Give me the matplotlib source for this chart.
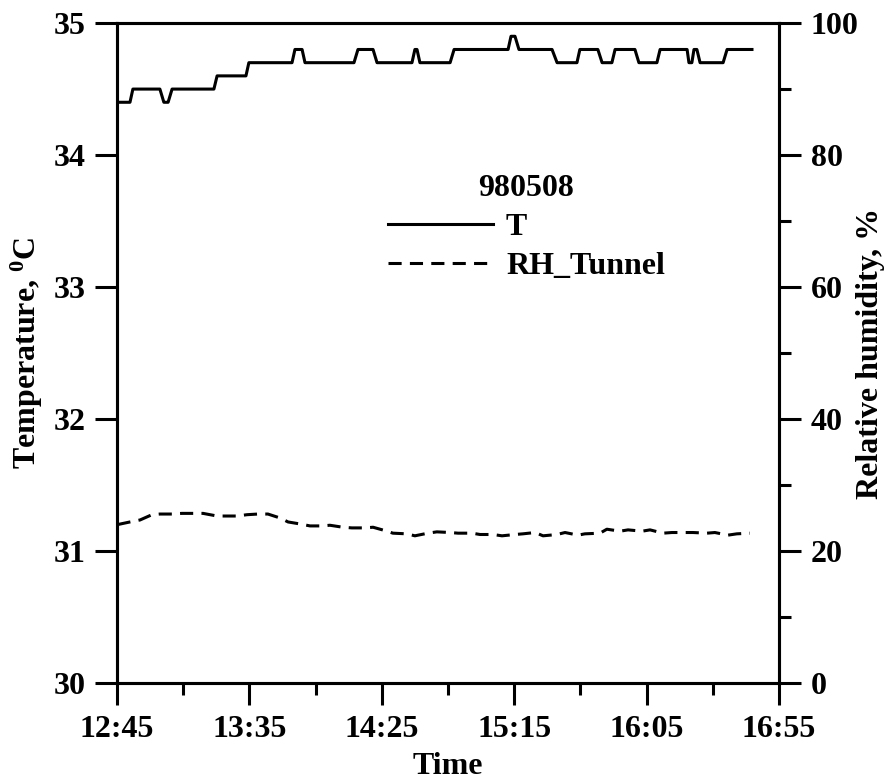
import matplotlib
matplotlib.use('Agg')
import matplotlib.pyplot as plt
from matplotlib.ticker import MultipleLocator

# minutes after 12:45
t_minutes = [0, 4.9, 6.0, 16.2, 17.7, 19.3, 20.8, 36.6, 37.8, 48.7, 49.8, 66.1, 67.2,
             69.9, 71.0, 89.5, 91.0, 96.7, 98.2, 111.4, 112.5, 113.3, 114.4, 125.8,
             127.3, 147.7, 148.8, 150.3, 151.8, 164.3, 166.2, 173.7, 174.8, 181.6,
             183.2, 186.9, 188.1, 195.6, 197.1, 203.9, 205.1, 215.3, 216.0, 217.1,
             217.9, 219.0, 220.2, 228.9, 230.4, 239.8]
temperature = [34.4, 34.4, 34.5, 34.5, 34.4, 34.4, 34.5, 34.5, 34.6, 34.6, 34.7, 34.7, 34.8,
               34.8, 34.7, 34.7, 34.8, 34.8, 34.7, 34.7, 34.8, 34.8, 34.7, 34.7,
               34.8, 34.8, 34.9, 34.9, 34.8, 34.8, 34.7, 34.7, 34.8, 34.8,
               34.7, 34.7, 34.8, 34.8, 34.7, 34.7, 34.8, 34.8, 34.7, 34.7,
               34.8, 34.8, 34.7, 34.7, 34.8, 34.8]

rh_minutes = [0.2, 4.9, 8.7, 13.2, 16.2, 20.8, 24.5, 28.7, 32.5, 37.8, 40.8, 45.3, 49.1,
              53.2, 57.0, 61.6, 64.6, 69.1, 72.9, 77.4, 80.4, 85.3, 88.7, 93.7, 96.7,
              102.0, 104.2, 109.5, 112.5, 117.4, 120.8, 125.8, 128.8, 134.1, 137.1,
              142.0, 145.4, 150.3, 153.3, 157.9, 160.9, 166.2, 169.2, 174.1, 176.7,
              182.4, 185.0, 190.0, 193.0, 198.3, 201.3, 206.2, 209.6, 214.5, 217.5,
              222.8, 225.8, 230.7, 234.1, 239.0]
rh_tunnel = [24.0, 24.4, 24.7, 25.5, 25.6, 25.6, 25.7, 25.7, 25.7, 25.3, 25.3, 25.3, 25.5,
             25.6, 25.6, 25.0, 24.4, 24.1, 23.8, 23.8, 23.9, 23.6, 23.5, 23.5, 23.6,
             23.0, 22.7, 22.6, 22.3, 22.7, 22.9, 22.8, 22.7, 22.7, 22.5,
             22.5, 22.3, 22.5, 22.6, 22.8, 22.3, 22.5, 22.8, 22.4, 22.6,
             22.7, 23.3, 23.0, 23.2, 23.0, 23.2, 22.7, 22.8, 22.8, 22.8,
             22.7, 22.8, 22.4, 22.6, 22.7]

time_ticks = [0, 50, 100, 150, 200, 250]
time_labels = ['12:45', '13:35', '14:25', '15:15', '16:05', '16:55']

plt.rcParams['font.family'] = 'Liberation Serif'
plt.rcParams['font.weight'] = 'bold'
plt.rcParams['axes.labelweight'] = 'bold'
plt.rcParams['font.size'] = 23
plt.rcParams['mathtext.fontset'] = 'custom'
plt.rcParams['mathtext.rm'] = 'Liberation Serif:bold'

lw = 2.2
fig = plt.figure(figsize=(8.85, 7.8), dpi=100)
ax = fig.add_axes([0.1322, 0.1244, 0.748, 0.846])
ax2 = ax.twinx()

l1, = ax.plot(t_minutes, temperature, color='black', lw=lw, label='T')
l2, = ax2.plot(rh_minutes, rh_tunnel, color='black', lw=lw, dashes=(4.3, 2.7),
               label='RH_Tunnel')

ax.set_xlim(0, 250)
ax.set_ylim(30, 35)
ax2.set_ylim(0, 100)
ax.set_xticks(time_ticks)
ax.set_xticklabels(time_labels)
ax.xaxis.set_minor_locator(MultipleLocator(25))
ax.yaxis.set_major_locator(MultipleLocator(1))
ax2.yaxis.set_major_locator(MultipleLocator(20))
ax2.yaxis.set_minor_locator(MultipleLocator(10))

for a in (ax, ax2):
    for s in a.spines.values():
        s.set_linewidth(lw)
    a.tick_params(which='major', length=15.8, width=lw, direction='out', pad=7)
    a.tick_params(which='minor', length=8.5, width=lw, direction='out')

ax.set_xlabel('Time', labelpad=6)
ax.set_ylabel(r'Temperature, $\mathrm{^0}$C', labelpad=6)
ax2.set_ylabel('Relative humidity, %', labelpad=-2)

leg = ax.legend([l1, l2], ['T', 'RH_Tunnel'], title='980508', loc='upper left',
                bbox_to_anchor=(0.409, 0.771), frameon=False, borderpad=0,
                borderaxespad=0, handlelength=3.3, handletextpad=0.4,
                labelspacing=0.3, fontsize=23)
leg.get_title().set_fontweight('bold')
leg.get_title().set_fontsize(23)

fig.savefig('out.png', dpi=100)
